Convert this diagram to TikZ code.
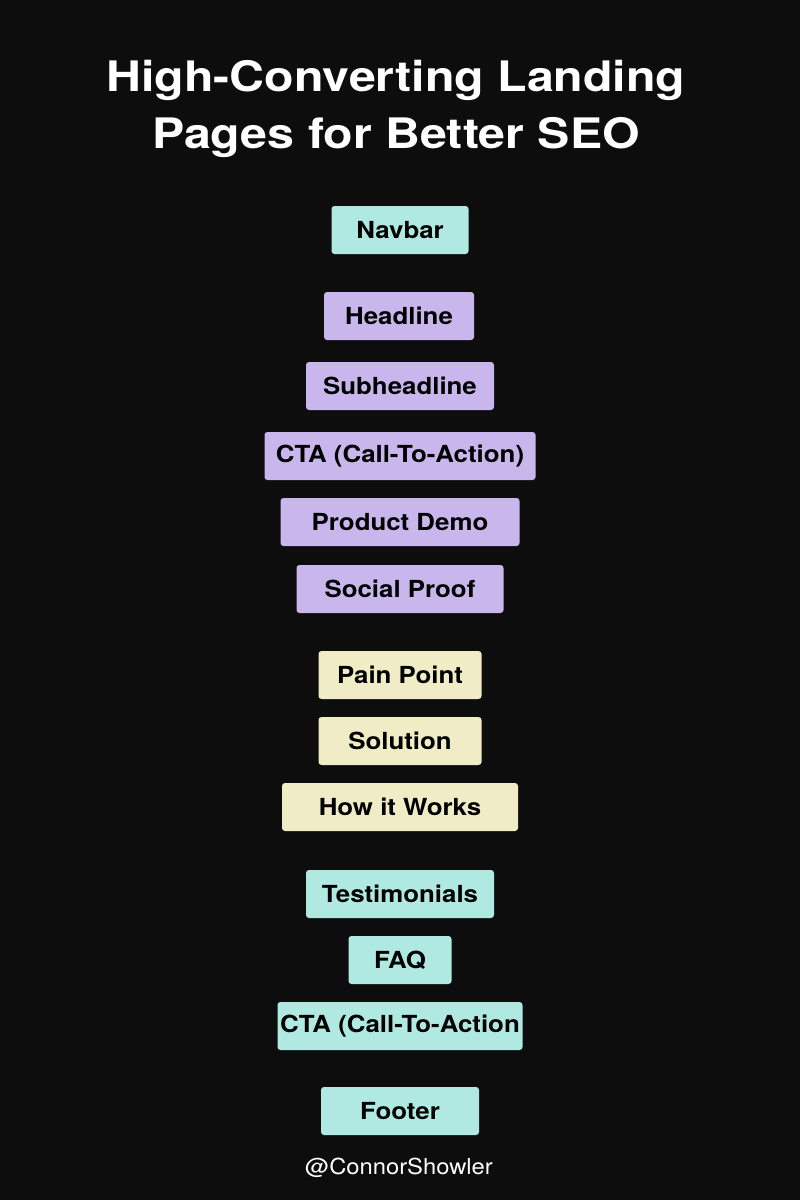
\documentclass[tikz,border=0pt]{standalone}
\usepackage{fontspec}
\setmainfont{TeX Gyre Heros}
\newfontfamily\titlefont[FakeStretch=1.15]{TeX Gyre Heros}
\newfontfamily\blockfont[FakeStretch=1.1]{TeX Gyre Heros}
\newfontfamily\handlefont[FakeStretch=1.08]{TeX Gyre Heros}
\definecolor{bgdark}{RGB}{13,13,13}
\definecolor{tealbox}{RGB}{176,232,226}
\definecolor{purplebox}{RGB}{201,182,236}
\definecolor{yellowbox}{RGB}{240,236,198}
\begin{document}
\begin{tikzpicture}[x=1pt,y=-1pt,
    block/.style={rounded corners=3pt, minimum height=48pt, inner sep=0pt, text=black, font=\blockfont\fontsize{23.5}{28}\selectfont\bfseries},
    tealblock/.style={block, fill=tealbox},
    purpleblock/.style={block, fill=purplebox},
    yellowblock/.style={block, fill=yellowbox}]
            \fill[bgdark] (0,0) rectangle (800,1200);
            \useasboundingbox (0,0) rectangle (800,1200);

            \node (title) at (396,109) [text=white, align=center, font=\titlefont\fontsize{42}{57}\selectfont\bfseries] {High-Converting Landing\\Pages for Better SEO};

            \node (navbar) at (400,230) [tealblock, minimum width=137pt] {Navbar};

            \node (headline) at (399,316) [purpleblock, minimum width=150pt] {Headline};
            \node (subhead) at (400,386) [purpleblock, minimum width=188pt] {Subheadline};
            \node (ctatop) at (400,456) [purpleblock, minimum width=271pt] {CTA (Call-To-Action)};
            \node (demo) at (400,522) [purpleblock, minimum width=239pt] {Product Demo};
            \node (proof) at (400,589) [purpleblock, minimum width=207pt] {Social Proof};

            \node (pain) at (400,675) [yellowblock, minimum width=163pt] {Pain Point};
            \node (solution) at (400,741) [yellowblock, minimum width=163pt] {Solution};
            \node (works) at (400,807) [yellowblock, minimum width=236pt] {How it Works};

            \node (testimonials) at (400,894) [tealblock, minimum width=188pt] {Testimonials};
            \node (faq) at (400,960) [tealblock, minimum width=103pt] {FAQ};
            \node (ctabottom) at (400,1026) [tealblock, minimum width=245pt] {CTA (Call-To-Action};
            \node (footer) at (400,1111) [tealblock, minimum width=158pt] {Footer};

            \node (handle) at (399,1168) [text=white, font=\handlefont\fontsize{22}{26}\selectfont] {@ConnorShowler};
        \end{tikzpicture}
\end{document}
